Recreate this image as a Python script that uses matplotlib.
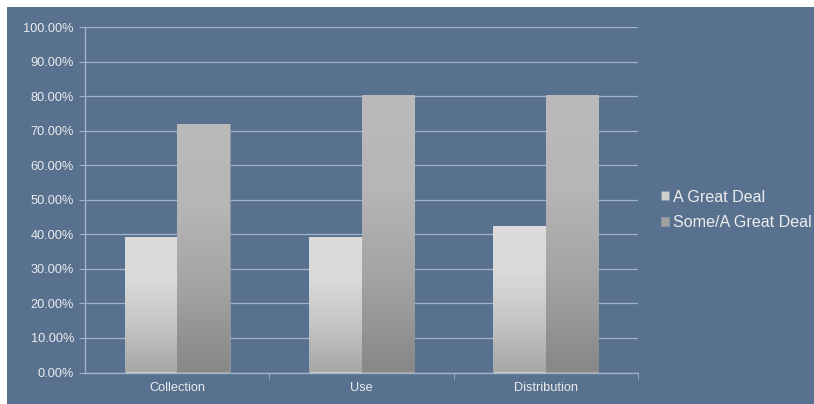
import matplotlib.pyplot as plt
import numpy as np
from matplotlib.colors import LinearSegmentedColormap

plt.rcParams['font.family'] = ['Liberation Sans', 'DejaVu Sans']

categories = ['Collection', 'Use', 'Distribution']
great_deal = [39.3, 39.3, 42.5]
some_great_deal = [72.0, 80.2, 80.2]
series_names = ['A Great Deal', 'Some/A Great Deal']
y_ticks = np.arange(0, 101, 10)

bg = '#58718f'
txt = '#ececec'
grid_c = '#a3b3c7'

light_cmap = LinearSegmentedColormap.from_list('light', ['#a6a6a6', '#c4c4c4', '#d9d9d9', '#dcdcdc'])
dark_cmap = LinearSegmentedColormap.from_list('dark', ['#878787', '#a3a3a3', '#b6b6b6', '#bababa'])

fig = plt.figure(figsize=(8.14, 4.04), dpi=100)
fig.patch.set_facecolor('white')
# blue panel, leaving a thin white strip at the top and left
fig.patches.append(plt.Rectangle((7 / 814, 0), 1, 1 - 7 / 404, transform=fig.transFigure,
                                 facecolor=bg, edgecolor='none', zorder=-10))

ax = fig.add_axes([85 / 814, (404 - 372.5) / 404, (638 - 85) / 814, (372.5 - 27) / 404])
ax.set_facecolor(bg)

x = np.arange(len(categories))
w = 0.285
bars1 = ax.bar(x - w / 2, great_deal, w, color='#d0d0d0', label=series_names[0], zorder=3,
               edgecolor='#8c99aa', linewidth=0.6)
bars2 = ax.bar(x + w / 2, some_great_deal, w, color='#a8a8a8', label=series_names[1], zorder=3,
               edgecolor='#8c99aa', linewidth=0.6)

# vertical gradient fill, clipped to each bar
grad = np.linspace(0, 1, 256).reshape(-1, 1)
for bars, cmap in [(bars1, light_cmap), (bars2, dark_cmap)]:
    for b in bars:
        x0, h = b.get_x(), b.get_height()
        im = ax.imshow(grad, cmap=cmap, origin='lower', aspect='auto',
                       extent=[x0, x0 + b.get_width(), 0, h], zorder=3.5)
        im.set_clip_path(b)

ax.set_xlim(-0.5, 2.5)
ax.set_ylim(0, 100)
ax.set_yticks(y_ticks)
ax.set_yticklabels(['%.2f%%' % v for v in y_ticks])
ax.yaxis.grid(True, color=grid_c, linewidth=0.9, zorder=1)
ax.set_axisbelow(True)
ax.set_xticks(x)
ax.set_xticklabels(categories)
ax.set_xticks([0.5, 1.5, 2.5], minor=True)
ax.tick_params(axis='x', which='major', length=0, colors=txt, labelsize=9.2, pad=7)
ax.tick_params(axis='x', which='minor', length=4, color=grid_c, direction='out')
ax.tick_params(axis='y', length=4, color=grid_c, colors=txt, labelsize=9.2, pad=4)
for s in ['top', 'right']:
    ax.spines[s].set_visible(False)
for s in ['left', 'bottom']:
    ax.spines[s].set_color(grid_c)
    ax.spines[s].set_linewidth(1)

leg = ax.legend(loc='center left', bbox_to_anchor=(1.016, 0.471), frameon=False,
                fontsize=11.6, handlelength=0.5, handleheight=0.5, handletextpad=0.25,
                labelspacing=0.65)
for t in leg.get_texts():
    t.set_color(txt)
for h, c in zip(leg.legend_handles, ['#d0d0d0', '#a0a0a0']):
    h.set_facecolor(c)
    h.set_edgecolor('#8c99aa')

fig.savefig('out.png', dpi=100, facecolor=fig.get_facecolor())
